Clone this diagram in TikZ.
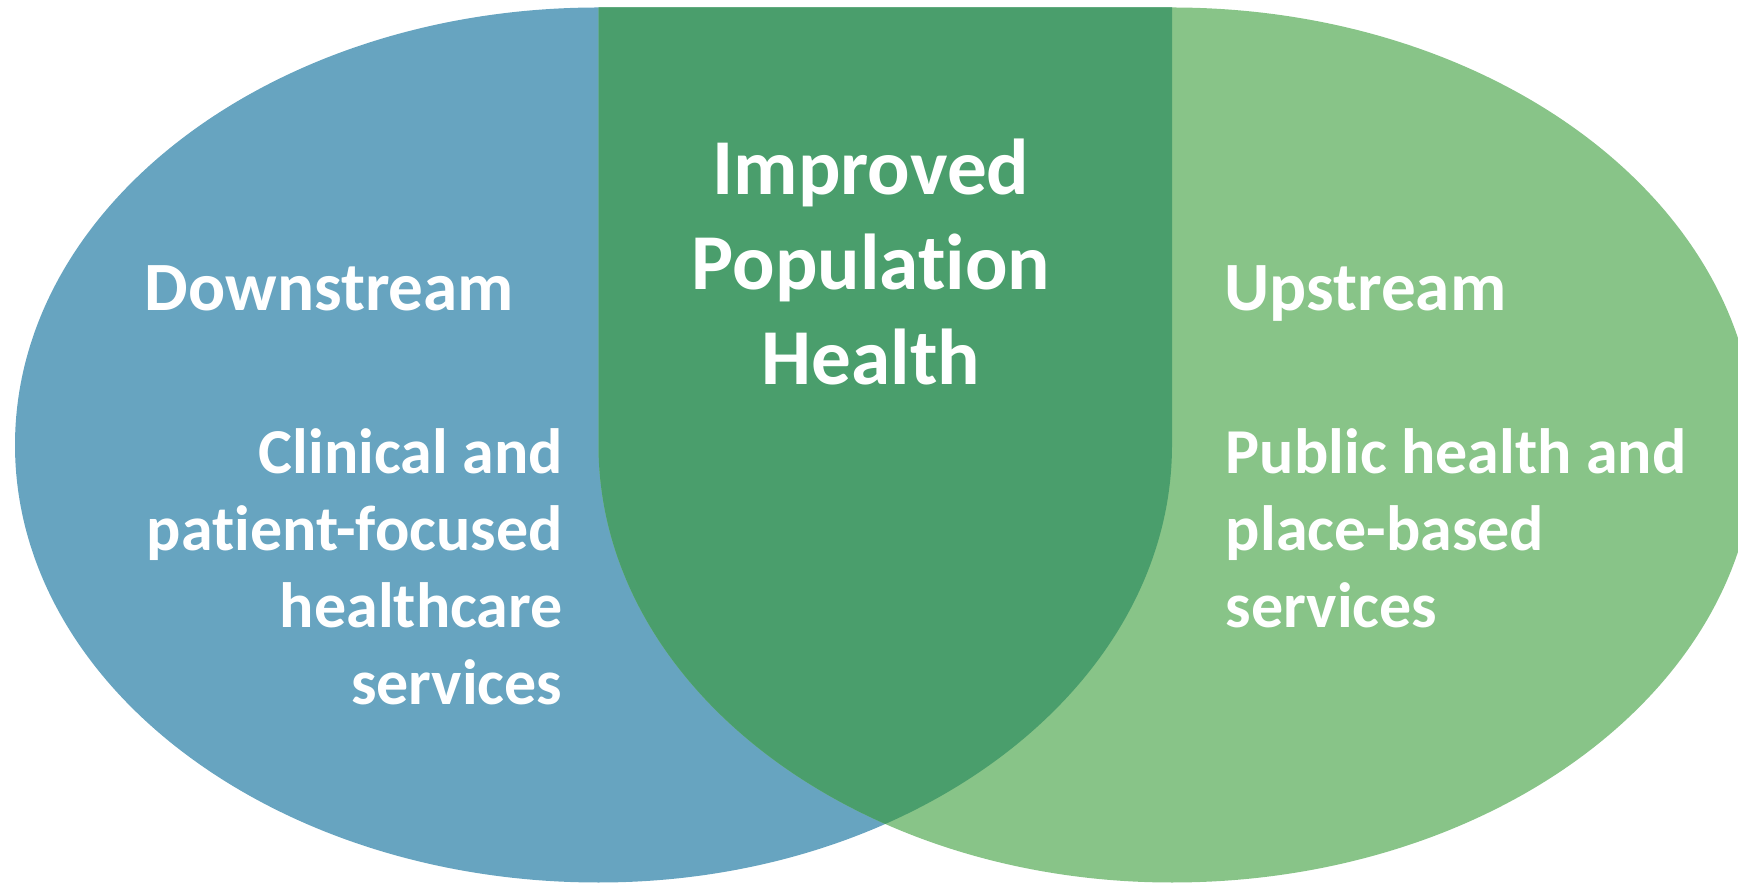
\documentclass[tikz,border=0pt]{standalone}
\usepackage{fontspec}
\setmainfont{Carlito}[Ligatures=NoCommon]
\usepackage{tikz}
\definecolor{downblue}{RGB}{103,164,192}
\definecolor{upgreen}{RGB}{136,196,136}
\definecolor{midgreen}{RGB}{74,158,108}
\tikzset{
  headtext/.style={text=white, font=\bfseries\fontsize{34.6}{40}\selectfont, inner sep=0pt},
  bodytext/.style={text=white, font=\bfseries\fontsize{32}{38.5}\selectfont, inner sep=0pt},
  titletext/.style={text=white, font=\bfseries\fontsize{39.6}{47.5}\selectfont, inner sep=0pt, align=center}
}

\begin{document}
\begin{tikzpicture}[x=0.5pt, y=0.5pt]
		%%%%% START %%%%%
		\clip (0, 0) rectangle (1738, 883);
		
		% downstream (left)
		\fill[downblue] (598.5, 875.5) arc[start angle=90, end angle=270, x radius=583.5, y radius=437.5]
			arc[start angle=270, end angle=360, x radius=573.5, y radius=437.5] -- (1172, 875.5) -- cycle;
		
		% upstream (right)
		\fill[upgreen] (1172, 875.5) arc[start angle=90, end angle=-90, x radius=583.5, y radius=437.5]
			arc[start angle=270, end angle=180, x radius=573.5, y radius=437.5] -- (598.5, 875.5) -- cycle;
		
		% overlap
		\begin{scope}
			\clip (1172, 875.5) arc[start angle=90, end angle=-90, x radius=583.5, y radius=437.5]
				arc[start angle=270, end angle=180, x radius=573.5, y radius=437.5] -- (598.5, 875.5) -- cycle;
			\fill[midgreen] (598.5, 875.5) arc[start angle=90, end angle=270, x radius=583.5, y radius=437.5]
				arc[start angle=270, end angle=360, x radius=573.5, y radius=437.5] -- (1172, 875.5) -- cycle;
		\end{scope}
		
		\node[titletext, anchor=north] (title) at (871, 744) {Improved\\Population\\Health};
		
		\node[headtext, anchor=base west] (downhead) at (144.5, 572.3) {Downstream};
		\node[bodytext, anchor=north east, align=right] (downbody) at (563, 455)
			{Clinical and\\patient-focused\\healthcare\\services};
		
		\node[headtext, anchor=base west] (uphead) at (1224, 572.3) {Upstream};
		\node[bodytext, anchor=north west, align=left] (upbody) at (1225.5, 455)
			{Public health and\\place-based\\services};
		%%%%% END %%%%%
	\end{tikzpicture}
\end{document}
